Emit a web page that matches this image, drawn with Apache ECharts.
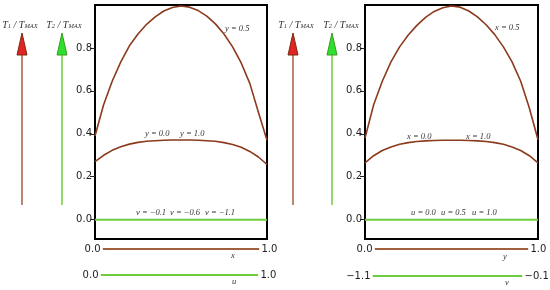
<!DOCTYPE html>
<html>
<head>
<meta charset="utf-8">
<script src="https://cdn.jsdelivr.net/npm/echarts@6/dist/echarts.min.js"></script>
<style>html,body{margin:0;padding:0;background:#fff}</style>
</head>
<body>
<div id="chart" style="width:550px;height:290px"></div>
<script>
// sample positions along the plate (x for left panel, y for right panel)
var xs = [0, 0.05, 0.1, 0.15, 0.2, 0.25, 0.3, 0.35, 0.4, 0.45, 0.5, 0.55, 0.6, 0.65, 0.7, 0.75, 0.8, 0.85, 0.9, 0.95, 1.0];
// T/TMAX curves
var leftUpper  = [0.39, 0.535, 0.645, 0.735, 0.81, 0.865, 0.91, 0.945, 0.972, 0.988, 0.995, 0.99, 0.974, 0.948, 0.912, 0.865, 0.805, 0.73, 0.635, 0.5, 0.37];
var leftLower  = [0.27, 0.30, 0.323, 0.34, 0.352, 0.36, 0.365, 0.368, 0.37, 0.371, 0.371, 0.371, 0.37, 0.368, 0.365, 0.359, 0.35, 0.337, 0.318, 0.292, 0.257];
var rightUpper = [0.38, 0.535, 0.645, 0.735, 0.805, 0.86, 0.905, 0.942, 0.97, 0.987, 0.995, 0.99, 0.972, 0.945, 0.908, 0.862, 0.805, 0.735, 0.645, 0.52, 0.372];
var rightLower = [0.265, 0.298, 0.322, 0.339, 0.351, 0.359, 0.364, 0.367, 0.369, 0.37, 0.37, 0.37, 0.369, 0.367, 0.364, 0.359, 0.351, 0.339, 0.322, 0.298, 0.265];
var edgeX = [0, 1];
var zeroLine = [0, 0];
var yTicks = [0, 0.2, 0.4, 0.6, 0.8];
var xRange = [0.0, 1.0];   // x, u and y scales
var vRange = [-1.1, -0.1]; // v scale

var brown = '#8b3a1e';
var green = '#6fcc3c';
var serif = '"Liberation Serif", "DejaVu Serif", serif';

function pairs(a, b) {
    return a.map(function (v, i) { return [v, b[i]]; });
}

function curve(data, idx, color, width) {
    return {
        type: 'line', xAxisIndex: idx, yAxisIndex: idx,
        data: data, showSymbol: false, silent: true,
        lineStyle: {color: color, width: width}
    };
}

// small scale bar under each panel, with end values written beside it
function scaleBar(idx, range, color) {
    var lab = {show: true, color: '#222', fontSize: 10, fontFamily: 'DejaVu Sans', distance: 2};
    return {
        type: 'line', xAxisIndex: idx, yAxisIndex: idx, silent: true,
        symbol: 'circle', symbolSize: 1,
        itemStyle: {color: color},
        lineStyle: {color: color, width: 2},
        data: [
            {value: [range[0], 0], label: Object.assign({position: 'left', formatter: range[0].toFixed(1).replace('-', '\u2212')}, lab)},
            {value: [range[1], 0], label: Object.assign({position: 'right', formatter: range[1].toFixed(1).replace('-', '\u2212')}, lab)}
        ]
    };
}

function mainY(idx) {
    return {
        gridIndex: idx, type: 'value', min: -0.09, max: 1.0,
        axisLine: {show: false},
        axisTick: {show: true, length: 5, customValues: yTicks, lineStyle: {color: '#222', width: 1}},
        axisLabel: {customValues: yTicks, margin: 3, fontSize: 10, color: '#222', fontFamily: 'DejaVu Sans',
            formatter: function (v) { return v.toFixed(1); }},
        splitLine: {show: false}
    };
}

function hiddenX(idx, range) {
    return {gridIndex: idx, type: 'value', min: range[0], max: range[1], show: false};
}
function hiddenY(idx) {
    return {gridIndex: idx, type: 'value', min: -1, max: 1, show: false};
}

function arrow(x, head, shaft, edge) {
    return [
        {type: 'line', shape: {x1: x, y1: 205, x2: x, y2: 54}, style: {stroke: shaft, lineWidth: 2}},
        {type: 'polygon', shape: {points: [[x - 5, 55], [x, 33], [x + 5, 55]]}, style: {fill: head, stroke: edge, lineWidth: 1}}
    ];
}

function tLabel(x, n) {
    return {
        type: 'text', x: x, y: 24,
        style: {
            text: '{t|T}{s|' + n + '}{t| / T}{s|MAX}',
            align: 'center', verticalAlign: 'middle',
            rich: {
                t: {font: 'italic 10px ' + serif, fill: '#333', verticalAlign: 'bottom', lineHeight: 12},
                s: {font: 'italic 6.5px ' + serif, fill: '#333', verticalAlign: 'bottom', lineHeight: 10}
            }
        }
    };
}

function note(x, y, text) {
    return {type: 'text', x: x, y: y, style: {text: text, font: 'italic 8.5px ' + serif, fill: '#333', verticalAlign: 'middle'}};
}

var chart = echarts.init(document.getElementById('chart'));

var option = {
    animation: false,
    grid: [
        {left: 95, top: 5, width: 172, height: 234, show: true, borderColor: '#000', borderWidth: 2, backgroundColor: 'transparent'},
        {left: 365, top: 5, width: 173, height: 234, show: true, borderColor: '#000', borderWidth: 2, backgroundColor: 'transparent'},
        {left: 103, top: 245, width: 156, height: 8},
        {left: 101, top: 271, width: 157, height: 8},
        {left: 375, top: 245, width: 153, height: 8},
        {left: 373, top: 272, width: 149, height: 8}
    ],
    xAxis: [hiddenX(0, xRange), hiddenX(1, xRange), hiddenX(2, xRange), hiddenX(3, xRange), hiddenX(4, xRange), hiddenX(5, vRange)],
    yAxis: [mainY(0), mainY(1), hiddenY(2), hiddenY(3), hiddenY(4), hiddenY(5)],
    series: [
        curve(pairs(xs, leftUpper), 0, brown, 1.6),
        curve(pairs(xs, leftLower), 0, brown, 1.6),
        curve(pairs(edgeX, zeroLine), 0, green, 2),
        curve(pairs(xs, rightUpper), 1, brown, 1.6),
        curve(pairs(xs, rightLower), 1, brown, 1.6),
        curve(pairs(edgeX, zeroLine), 1, green, 2),
        scaleBar(2, xRange, '#a0603e'),
        scaleBar(3, xRange, green),
        scaleBar(4, xRange, '#a0603e'),
        scaleBar(5, vRange, green)
    ],
    graphic: [].concat(
        arrow(22, '#e02424', '#b8866c', '#7a2a10'),
        arrow(62, '#2ee02e', '#92d86c', '#3a9a20'),
        arrow(293, '#e02424', '#b8866c', '#7a2a10'),
        arrow(332, '#2ee02e', '#92d86c', '#3a9a20'),
        [
            tLabel(20, 1), tLabel(64, 2), tLabel(296, 1), tLabel(341, 2),
            note(225, 29, 'y = 0.5'),
            note(145, 134, 'y = 0.0'),
            note(180, 134, 'y = 1.0'),
            note(136, 213, 'v = \u22120.1'),
            note(170, 213, 'v = \u22120.6'),
            note(205, 213, 'v = \u22121.1'),
            note(495, 28, 'x = 0.5'),
            note(407, 137, 'x = 0.0'),
            note(466, 137, 'x = 1.0'),
            note(411, 213, 'u = 0.0'),
            note(441, 213, 'u = 0.5'),
            note(472, 213, 'u = 1.0'),
            note(231, 256, 'x'),
            note(232, 282, 'u'),
            note(503, 257, 'y'),
            note(505, 283, 'v')
        ]
    )
};

chart.setOption(option);
</script>
</body>
</html>
